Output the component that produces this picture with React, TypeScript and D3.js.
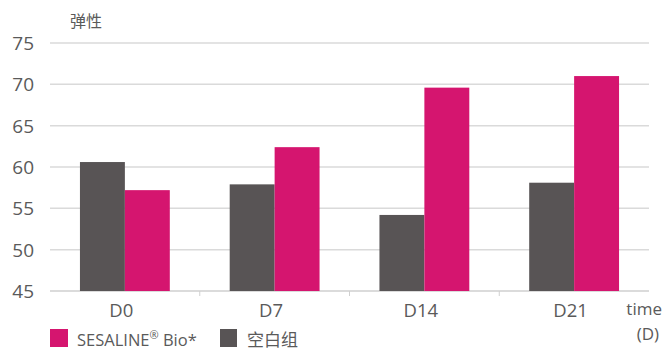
import React from "react";
import * as d3 from "d3";

const categories = ["D0", "D7", "D14", "D21"];
const blankValues = [60.6, 57.9, 54.2, 58.1];
const sesalineValues = [57.2, 62.4, 69.6, 71.0];
const yTicks = [45, 50, 55, 60, 65, 70, 75];
const seriesNames = ["SESALINE", "空白组"];

const W = 668, H = 357;
const PINK = "#D5156F";
const GREY = "#585455";
const TEXT = "#5a5a5a";
const FONT = "'Open Sans', 'Noto Sans', 'Noto Sans CJK SC', sans-serif";

export default function App() {
  const x = d3.scaleBand<string>().domain(categories).range([50, 649]).padding(0);
  const y = d3.scaleLinear().domain([45, 75]).range([291, 43]);
  const bw = x.bandwidth() * 0.3;

  return (
    <svg width={W} height={H} style={{ position: "absolute", left: 0, top: 0, fontFamily: FONT }}>
      <rect width={W} height={H} fill="#fff" />
      {yTicks.map((t) => (
        <g key={t}>
          <line x1={50} x2={649} y1={y(t)} y2={y(t)} stroke={t === 45 ? "#cfcfcf" : "#dadada"} strokeWidth={1.5} />
          <text x={34} y={y(t)} dy="0.36em" textAnchor="end" fontSize={19} fill={TEXT}>{t}</text>
        </g>
      ))}
      {categories.slice(1).map((c) => (
        <line key={c} x1={x(c)!} x2={x(c)!} y1={291} y2={296} stroke="#d0d0d0" strokeWidth={1} />
      ))}
      {categories.map((c, i) => {
        const cx = x(c)! + x.bandwidth() / 2;
        return (
          <g key={c}>
            <rect x={cx - bw} y={y(blankValues[i])} width={bw} height={y(45) - y(blankValues[i])} fill={GREY} />
            <rect x={cx} y={y(sesalineValues[i])} width={bw} height={y(45) - y(sesalineValues[i])} fill={PINK} />
            <text x={cx - 3.5} y={317} textAnchor="middle" fontSize={18.5} fill={TEXT}>{c}</text>
          </g>
        );
      })}
      <text x={86} y={27} textAnchor="middle" fontSize={16} fill={TEXT}>弹性</text>
      <text x={662} y={315} textAnchor="end" fontSize={17} fill={TEXT}>time</text>
      <text x={659} y={340} textAnchor="end" fontSize={17} fill={TEXT}>(D)</text>
      <rect x={50} y={329} width={18} height={18} fill={PINK} />
      <text x={77} y={346} fontSize={16.5} fill={TEXT}>
        {seriesNames[0]}
        <tspan fontSize={11} dy={-7}>®</tspan>
        <tspan dy={7}> Bio*</tspan>
      </text>
      <rect x={220} y={329} width={17} height={18} fill={GREY} />
      <text x={247} y={346} fontSize={17} fill={TEXT}>{seriesNames[1]}</text>
    </svg>
  );
}
